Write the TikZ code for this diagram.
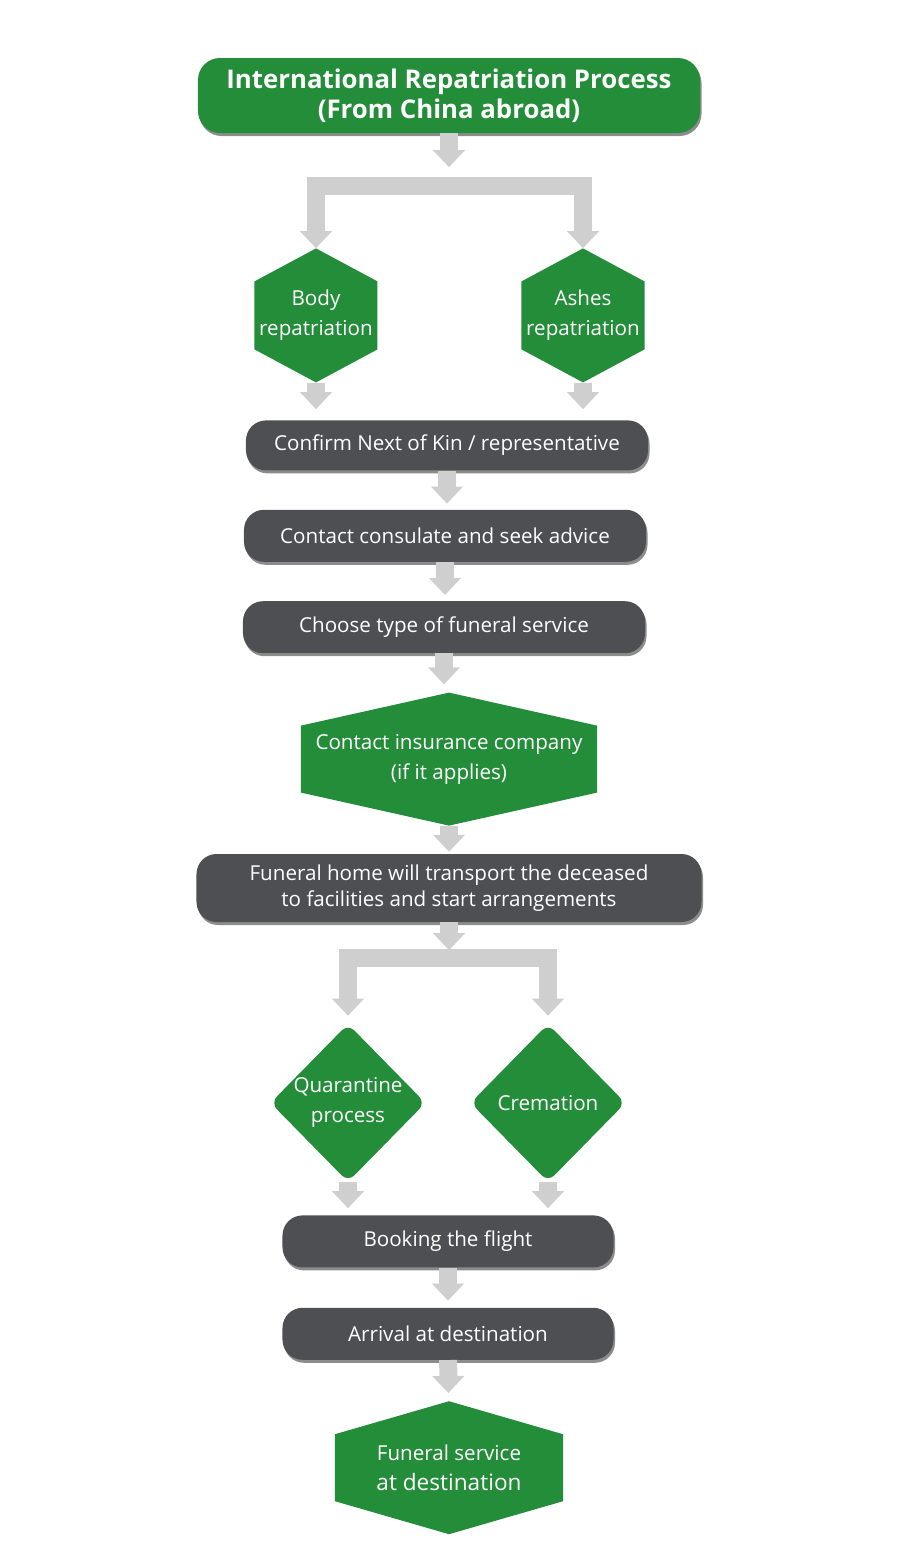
\documentclass[tikz,border=0pt]{standalone}
\usepackage{fontspec}
\setmainfont{Open Sans}
\usetikzlibrary{arrows.meta, positioning, shapes.geometric, shadows}

\definecolor{leafgreen}{RGB}{35,141,57}
\definecolor{slate}{RGB}{78,79,83}
\definecolor{arrowgray}{RGB}{207,207,207}

\begin{document}
\begin{tikzpicture}[
		x=1pt, y=1pt,
		node distance=39pt,
		every node/.style={text=white, align=center, font=\fontsize{20.6}{30}\selectfont},
		boxshadow/.style={drop shadow={shadow xshift=1.5pt, shadow yshift=-3pt, opacity=0.45, fill=black}},
		headbox/.style={fill=leafgreen, rounded corners=22pt, minimum width=502pt, minimum height=75pt,
			font=\bfseries\fontsize{25.8}{29.5}\selectfont, boxshadow},
		darkbox/.style={fill=slate, rounded corners=20pt, minimum height=52pt, boxshadow},
		greenhex/.style={inner sep=0pt, path picture={
				\fill[leafgreen] (path picture bounding box.north)
				-- ([yshift=-33pt]path picture bounding box.north east)
				-- ([yshift=33pt]path picture bounding box.south east)
				-- (path picture bounding box.south)
				-- ([yshift=33pt]path picture bounding box.south west)
				-- ([yshift=-33pt]path picture bounding box.north west) -- cycle;}},
		greendiamond/.style={diamond, fill=leafgreen, rounded corners=9pt, minimum width=155pt,
			minimum height=158pt, inner sep=-12pt},
		flow/.style={draw=arrowgray, line width=18pt, -{Triangle[width=31pt,length=17pt]}, shorten >=7pt},
		fork/.style={flow, {Triangle[width=31pt,length=17pt]}-{Triangle[width=31pt,length=17pt]}, line join=miter}
	]
	
		\useasboundingbox (-449,95.5) rectangle (451,-1455.5);
		
		% Nodes
		\node[headbox] (title) at (0,0) {International Repatriation Process\\(From China abroad)};
		\node[greenhex, minimum width=123pt, minimum height=134pt, below=115pt of title, xshift=-133pt] (body) {Body\\repatriation};
		\node[greenhex, minimum width=123pt, minimum height=134pt, below=115pt of title, xshift=134pt] (ashes) {Ashes\\repatriation};
		\node[darkbox, minimum width=402pt, minimum height=50pt, below=287pt of title, xshift=-2pt] (kin) {Confirm Next of Kin / representative};
		\node[darkbox, minimum width=402pt, below=of kin, xshift=-2pt] (consulate) {Contact consulate and seek advice};
		\node[darkbox, minimum width=402pt, below=of consulate, xshift=-1pt] (service) {Choose type of funeral service};
		\node[greenhex, minimum width=296pt, minimum height=133pt, below=of service, xshift=5pt] (insurance) {Contact insurance company\\(if it applies)};
		\node[darkbox, minimum width=505pt, minimum height=68pt, below=28pt of insurance,
			font=\fontsize{20.6}{26}\selectfont] (transport) {Funeral home will transport the deceased\\to facilities and start arrangements};
		\node[greendiamond, below=101.5pt of transport, xshift=-101pt] (quarantine) {Quarantine\\process};
		\node[greendiamond, below=101.5pt of transport, xshift=99pt] (cremation) {Cremation};
		\node[darkbox, minimum width=331pt, below=293pt of transport, xshift=-1pt] (flight) {Booking the flight};
		\node[darkbox, minimum width=331pt, below=40pt of flight] (arrival) {Arrival at destination};
		\node[greenhex, minimum width=228pt, minimum height=133pt, below=41pt of arrival, xshift=1pt] (ceremony) {Funeral service\\{\fontsize{22.6}{32}\selectfont at destination}};
		
		\coordinate[below=53pt of title] (fork1);
		\coordinate[below=36pt of transport] (fork2);
		
		% Arrows
		\draw[flow, shorten >=19pt] (title) -- (fork1);
		\draw[fork, shorten <=0pt, shorten >=0pt] (body.north) |- (fork1) -| (ashes.north);
		\draw[flow, shorten >=11pt] (body) -- (body |- kin.north);
		\draw[flow, shorten >=11pt] (ashes) -- (ashes |- kin.north);
		\draw[flow, shorten >=6pt] (kin.south) -- (kin.south |- consulate.north);
		\draw[flow, shorten >=6pt] (consulate.south) -- (consulate.south |- service.north);
		\draw[flow, shorten >=8pt] (service.south) -- (service.south |- insurance.north);
		\draw[flow, shorten >=2pt] (insurance) -- (transport);
		\draw[flow, shorten >=8pt] (transport) -- (fork2);
		\draw[fork, shorten <=8pt, shorten >=8pt] (quarantine.north) |- (fork2) -| (cremation.north);
		\draw[flow] (quarantine) -- (quarantine |- flight.north);
		\draw[flow] (cremation) -- (cremation |- flight.north);
		\draw[flow] (flight) -- (arrival);
		\draw[flow, shorten >=8pt] (arrival) -- (ceremony);
		
	\end{tikzpicture}
\end{document}
